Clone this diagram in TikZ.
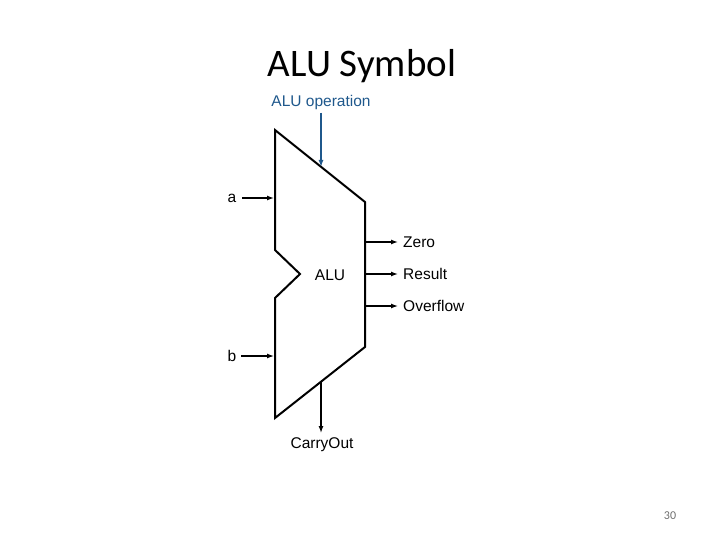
\documentclass[tikz,border=0pt]{standalone}
\usepackage{fontspec}
\setmainfont{Liberation Sans}
\newfontfamily\slidefont{Carlito}
\usetikzlibrary{arrows.meta}
\definecolor{opblue}{RGB}{31,88,140}
\definecolor{pagegray}{RGB}{110,110,110}
\tikzset{
  sig/.style={-{Latex[length=7pt,width=5pt]},line width=1.3pt},
  lbl/.style={font=\fontsize{15.5}{18}\selectfont,inner sep=0pt},
}

\begin{document}
\begin{tikzpicture}[x=1pt,y=-1pt]
\useasboundingbox (0,0) rectangle (720,540);
\node[anchor=base,inner sep=0pt,font=\slidefont\fontsize{39}{42}\selectfont] (title) at (362,77) {ALU Symbol};
% alu outline
\coordinate (tl) at (275,130);
\coordinate (tr) at (365,202);
\coordinate (br) at (365,347);
\coordinate (bl) at (275,418);
\coordinate (nb) at (275,298);
\coordinate (notch) at (300,274);
\coordinate (nt) at (275,250);
\draw[line width=2pt,line join=miter] (tl) -- (tr) -- (br) -- (bl) -- (nb) -- (notch) -- (nt) -- cycle;
\node[lbl,anchor=base] (alu) at (330,280) {ALU};
% control input
\node[lbl,anchor=base,text=opblue] (op) at (321,107) {ALU operation};
\coordinate (optop) at (321,113);
\coordinate (opin) at (321,167);
\draw[sig,draw=opblue,fill=opblue] (optop) -- (opin);
% data inputs
\node[lbl,anchor=base] (a) at (232,203) {a};
\node[lbl,anchor=base] (b) at (232,361) {b};
\coordinate (aout) at (242,198);
\coordinate (bout) at (241,356);
\coordinate (ain) at (274,198);
\coordinate (bin) at (274,356);
\draw[sig] (aout) -- (ain);
\draw[sig] (bout) -- (bin);
% outputs
\node[lbl,anchor=west] (zero) at (403,242) {Zero};
\node[lbl,anchor=west] (result) at (403,274) {Result};
\node[lbl,anchor=west] (overflow) at (403,306) {Overflow};
\foreach \o/\y in {zero/242,result/274,overflow/306}
  \draw[sig] (366,\y) -- ([xshift=-5pt]\o.west);
\node[lbl,anchor=base] (carry) at (322,448) {CarryOut};
\coordinate (cin) at (321,382);
\coordinate (cout) at (321,433);
\draw[sig] (cin) -- (cout);
\node[anchor=base,inner sep=0pt,text=pagegray,font=\slidefont\fontsize{12}{13}\selectfont] (page) at (670,519) {30};
\end{tikzpicture}
\end{document}
